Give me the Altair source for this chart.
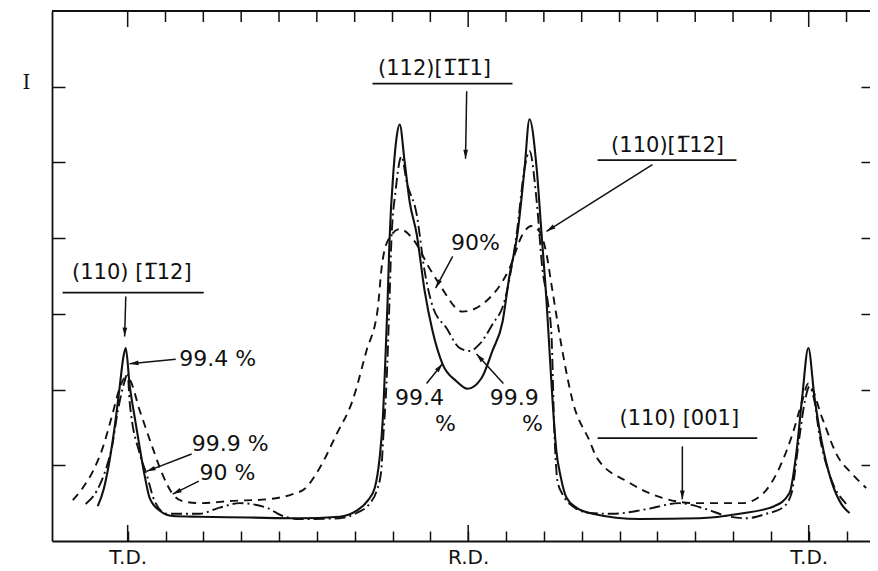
import math
import altair as alt
import pandas as pd

# ---- curve data: angle (deg, T.D.=0, R.D.=90, T.D.=180) vs intensity ----
solid_x = [-7.9, -6.3, -4.8, -3.4, -2.1, -1.1, -0.5, 0.5, 1.8, 3.2, 4.5, 5.8, 8.5, 11.9,
           19, 32, 45, 56, 60.5, 63.4, 65.3, 66.6, 67.4, 68.2, 68.7, 69.2, 70.3, 71.1, 71.9,
           73.2, 74.5, 76.4, 78.5, 80.6, 83.2, 86.9, 89.8, 93.5, 96.4, 99.1, 100.9, 103.0,
           104.9, 106.2, 108.1, 109.4, 110.7, 111.5, 112.3, 113.3, 114.4, 116.0, 118.6, 122.9,
           135.3, 151.1, 161.7, 170.9, 174.9, 176.8, 178.3, 179.9, 181.5, 183.4, 186.0, 188.6, 190.8]
solid_y = [0.46, 0.69, 1.06, 1.52, 2.04, 2.44, 2.55, 2.07, 1.65, 1.23, 0.86, 0.57, 0.40, 0.33,
           0.32, 0.31, 0.30, 0.32, 0.40, 0.53, 0.70, 1.10, 1.58, 2.51, 3.17, 3.96, 4.92, 5.34, 5.50,
           5.01, 4.49, 4.05, 3.30, 2.77, 2.34, 2.11, 2.01, 2.15, 2.51, 2.90, 3.50, 4.05,
           4.92, 5.57, 4.92, 4.05, 3.17, 2.51, 1.85, 1.19, 0.86, 0.57, 0.44, 0.36,
           0.29, 0.30, 0.36, 0.46, 0.63, 1.19, 1.91, 2.55, 1.91, 1.32, 0.79, 0.49, 0.37]

dashdot_x = [-11.1, -8.2, -5.5, -4.2, -2.6, -0.8, 0.0, 0.5, 3.2, 5.0, 7.1, 10.3, 19, 24.3, 29.6,
             36.7, 41, 45.4, 56, 60.5, 63.9, 65.8, 67.0, 67.6, 68.4, 69.2, 69.7, 70.8, 72.4, 73.7,
             76.4, 78.5, 80.6, 84.3, 87.7, 90.4, 93.0, 96.4, 99.6, 102.8, 104.9, 106.2, 108.1,
             109.6, 111.0, 112.0, 112.8, 113.6, 114.9, 116.8, 122.1, 128.1, 137.1, 145.8, 152.9,
             158.3, 163.5, 168.8, 173.1, 175.4, 177.4, 179.0, 180.2, 181.5, 182.8, 185.5, 189.9]
dashdot_y = [0.49, 0.66, 0.99, 1.23, 1.72, 2.11, 2.22, 1.85, 1.15, 0.88, 0.53, 0.36, 0.36, 0.44, 0.50,
             0.44, 0.33, 0.29, 0.30, 0.37, 0.49, 0.66, 0.92, 1.41, 2.07, 3.17, 3.96, 4.62, 5.08, 4.75,
             4.31, 3.56, 3.10, 2.81, 2.55, 2.51, 2.60, 2.86, 3.17, 4.05, 4.92, 5.15, 4.49,
             3.60, 3.17, 2.73, 1.41, 0.79, 0.62, 0.49, 0.37, 0.36, 0.42, 0.50, 0.42,
             0.33, 0.30, 0.36, 0.44, 0.62, 1.32, 1.85, 2.04, 1.85, 1.41, 0.88, 0.49]

dashed_x = [-14.5, -11.9, -9.2, -6.6, -4.0, -2.1, -0.8, 0.3, 3.2, 6.6, 9.2, 11.9, 14.3, 19, 27.7,
            36.7, 43.6, 46.8, 50.7, 55.2, 59.4, 63.1, 66.1, 67.1, 68.7, 71.9, 75.8, 79.8, 82.4,
            88.5, 94.8, 100.9, 104.4, 106.7, 108.8, 110.7, 112.0, 114.9, 117.6, 122.1, 124.0,
            132.6, 141.3, 150.3, 162.5, 167.8, 172.2, 175.7, 178.3, 179.9, 183.6, 187.3, 191.6, 195.2]
dashed_y = [0.54, 0.70, 0.92, 1.23, 1.68, 2.02, 2.15, 2.14, 1.72, 1.23, 0.88, 0.62, 0.53, 0.50, 0.53,
            0.55, 0.62, 0.69, 0.96, 1.41, 1.85, 2.51, 3.07, 3.60, 3.96, 4.12, 3.96, 3.60, 3.39,
            3.03, 3.17, 3.60, 4.05, 4.16, 4.09, 3.79, 3.39, 2.51, 1.85, 1.32, 1.10,
            0.77, 0.57, 0.50, 0.50, 0.62, 0.96, 1.41, 1.85, 2.08, 1.62, 1.15, 0.88, 0.70]

# ---- axis ticks ----
tick_values = list(range(0, 200, 10))
major_values = [0, 90, 180]
minor_values = [v for v in tick_values if v not in major_values]
y_tick_values = [1, 2, 3, 4, 5, 6]

# ---- annotations ----
miller_text = ["(110) [1\u030512]", "(112)[1\u03051\u03051]", "(110)[1\u030512]", "(110) [001]"]
miller_x = [1.1, 81.1, 142.7, 145.8]
miller_y = [3.54, 6.24, 5.22, 1.61]
under_x1 = [-17.2, 64.7, 124.2, 124.2]
under_x2 = [20.1, 101.7, 160.9, 166.4]
under_y = [3.28, 6.04, 5.03, 1.36]

pct_text = ["99.4 %", "99.9 %", "90 %", "90%", "99.4", "%", "99.9", "%"]
pct_x = [23.8, 27.1, 26.4, 91.9, 77.1, 84.0, 102.2, 107.0]
pct_y = [2.41, 1.28, 0.90, 3.93, 1.89, 1.54, 1.89, 1.54]

arrow_x1 = [-0.5, 12.7, 16.9, 18.8, 89.6, 138.7, 85.9, 79.0, 99.3, 146.6]
arrow_y1 = [3.23, 2.40, 1.15, 0.79, 5.94, 4.97, 3.76, 2.08, 2.08, 1.25]
arrow_x2 = [-0.8, 0.5, 5.0, 11.9, 89.3, 110.7, 81.4, 83.2, 92.2, 146.6]
arrow_y2 = [2.70, 2.34, 0.92, 0.62, 5.05, 4.09, 3.34, 2.34, 2.47, 0.55]

# ---- layout ----
XMIN, XMAX = -20, 196.2
YMIN, YMAX = 0, 7
W, H = 818, 530
PX_X = W / (XMAX - XMIN)
PX_Y = H / (YMAX - YMIN)
MAJOR_TICK_PX = 16
MINOR_TOP_PX = 11
MINOR_BOTTOM_PX = 10

angles = []
for x1, y1, x2, y2 in zip(arrow_x1, arrow_y1, arrow_x2, arrow_y2):
    dx = (x2 - x1) * PX_X
    dy = -(y2 - y1) * PX_Y
    angles.append(math.degrees(math.atan2(dx, -dy)) % 360)

solid_df = pd.DataFrame({"x": solid_x, "y": solid_y})
dashdot_df = pd.DataFrame({"x": dashdot_x, "y": dashdot_y})
dashed_df = pd.DataFrame({"x": dashed_x, "y": dashed_y})
miller_df = pd.DataFrame({"x": miller_x, "y": miller_y, "t": miller_text})
under_df = pd.DataFrame({"x": under_x1, "x2": under_x2, "y": under_y})
pct_df = pd.DataFrame({"x": pct_x, "y": pct_y, "t": pct_text})
arrow_df = pd.DataFrame({"x": arrow_x1, "y": arrow_y1, "x2": arrow_x2, "y2": arrow_y2, "a": angles})
frame_df = pd.DataFrame({"x": [XMIN], "x2": [XMAX], "y": [YMAX]})
top_minor_df = pd.DataFrame({"x": [float(v) for v in minor_values], "y": [float(YMAX)] * len(minor_values)})
top_major_df = pd.DataFrame({"x": [float(v) for v in major_values], "y": [float(YMAX)] * len(major_values)})
bottom_major_df = pd.DataFrame({"x": [float(v) for v in major_values], "y": [float(YMIN)] * len(major_values)})

xs = alt.Scale(domain=[XMIN, XMAX], nice=False, zero=False)
ys = alt.Scale(domain=[YMIN, YMAX], nice=False, zero=False)

INK = "#111111"
base = dict(grid=False, title=None, tickColor=INK, tickWidth=1.5, domainColor=INK, domainWidth=1.8)

ax_bottom_frame = alt.Axis(orient="bottom", values=major_values, ticks=False, domain=True,
                           labelExpr="datum.value == 90 ? 'R.D.' : 'T.D.'",
                           labelPadding=6, labelFont="DejaVu Sans", labelFontSize=20,
                           labelColor=INK, labelOverlap=False, labelFlush=False, **base)
ax_left_frame = alt.Axis(orient="left", values=[6], ticks=False, domain=True,
                         labelExpr="'I'", labelPadding=22,
                         labelFont="DejaVu Serif", labelFontSize=20, labelColor=INK,
                         labelOffset=-4, **base)
ax_bottom_ticks = alt.Axis(orient="bottom", values=tick_values, offset=-MINOR_BOTTOM_PX,
                           tickSize=MINOR_BOTTOM_PX, labels=False, domain=False, **base)
ax_left_ticks = alt.Axis(orient="left", values=y_tick_values, offset=-13, tickSize=13,
                         labels=False, domain=False, **base)
ax_right_ticks = alt.Axis(orient="right", values=y_tick_values, offset=-9, tickSize=9,
                          labels=False, domain=False, **base)

solid = alt.Chart(solid_df).mark_line(color=INK, strokeWidth=2.1, clip=True, interpolate="monotone").encode(
    x=alt.X("x:Q", scale=xs, axis=ax_bottom_frame),
    y=alt.Y("y:Q", scale=ys, axis=ax_left_frame),
)
dashdot = alt.Chart(dashdot_df).mark_line(color=INK, strokeWidth=1.9, strokeDash=[11, 4, 2, 4],
                                          clip=True, interpolate="monotone").encode(
    x=alt.X("x:Q", scale=xs, axis=ax_bottom_ticks),
    y=alt.Y("y:Q", scale=ys, axis=ax_right_ticks),
)
dashed = alt.Chart(dashed_df).mark_line(color=INK, strokeWidth=1.9, strokeDash=[8, 6],
                                        clip=True, interpolate="monotone").encode(
    x=alt.X("x:Q", scale=xs, axis=None),
    y=alt.Y("y:Q", scale=ys, axis=ax_left_ticks),
)
top_frame = alt.Chart(frame_df).mark_rule(color=INK, strokeWidth=1.8).encode(
    x=alt.X("x:Q", scale=xs, axis=None), x2="x2:Q",
    y=alt.Y("y:Q", scale=ys, axis=None),
)


def frame_ticks(df, length, shift):
    # vertical tick glyphs centred on the frame, shifted half their length inward
    return alt.Chart(df).mark_tick(
        color=INK, orient="vertical", size=length, thickness=1.5, opacity=1, yOffset=shift
    ).encode(
        x=alt.X("x:Q", scale=xs, axis=None),
        y=alt.Y("y:Q", scale=ys, axis=None),
    )


top_minor = frame_ticks(top_minor_df, MINOR_TOP_PX, MINOR_TOP_PX / 2)
top_major = frame_ticks(top_major_df, MAJOR_TICK_PX, MAJOR_TICK_PX / 2)
bottom_major = frame_ticks(bottom_major_df, MAJOR_TICK_PX, -MAJOR_TICK_PX / 2)

miller = alt.Chart(miller_df).mark_text(font="DejaVu Sans", fontSize=21, color=INK).encode(
    x=alt.X("x:Q", scale=xs, axis=None),
    y=alt.Y("y:Q", scale=ys, axis=None),
    text="t:N",
)
under = alt.Chart(under_df).mark_rule(color=INK, strokeWidth=1.8).encode(
    x=alt.X("x:Q", scale=xs, axis=None), x2="x2:Q",
    y=alt.Y("y:Q", scale=ys, axis=None),
)
pct = alt.Chart(pct_df).mark_text(font="DejaVu Sans", fontSize=22, color=INK).encode(
    x=alt.X("x:Q", scale=xs, axis=None),
    y=alt.Y("y:Q", scale=ys, axis=None),
    text="t:N",
)
shafts = alt.Chart(arrow_df).mark_rule(color=INK, strokeWidth=1.5).encode(
    x=alt.X("x:Q", scale=xs, axis=None), x2="x2:Q",
    y=alt.Y("y:Q", scale=ys, axis=None), y2="y2:Q",
)
heads = alt.Chart(arrow_df).mark_point(
    shape="M0,0L0.45,1.7L-0.45,1.7Z", filled=True, color=INK, opacity=1, size=110, strokeWidth=0
).encode(
    x=alt.X("x2:Q", scale=xs, axis=None),
    y=alt.Y("y2:Q", scale=ys, axis=None),
    angle=alt.Angle("a:Q", scale=None),
)

chart = alt.layer(
    solid, dashdot, dashed, top_frame, top_minor, top_major, bottom_major,
    miller, under, pct, shafts, heads
).resolve_axis(
    x="independent", y="independent"
).properties(
    width=W, height=H,
    autosize=alt.AutoSizeParams(type="none"),
    padding={"left": 44, "top": 3, "right": 0, "bottom": 30},
    background="white",
).configure_view(stroke=None)

chart.save("out.html", embed_options={"renderer": "svg", "actions": False})
